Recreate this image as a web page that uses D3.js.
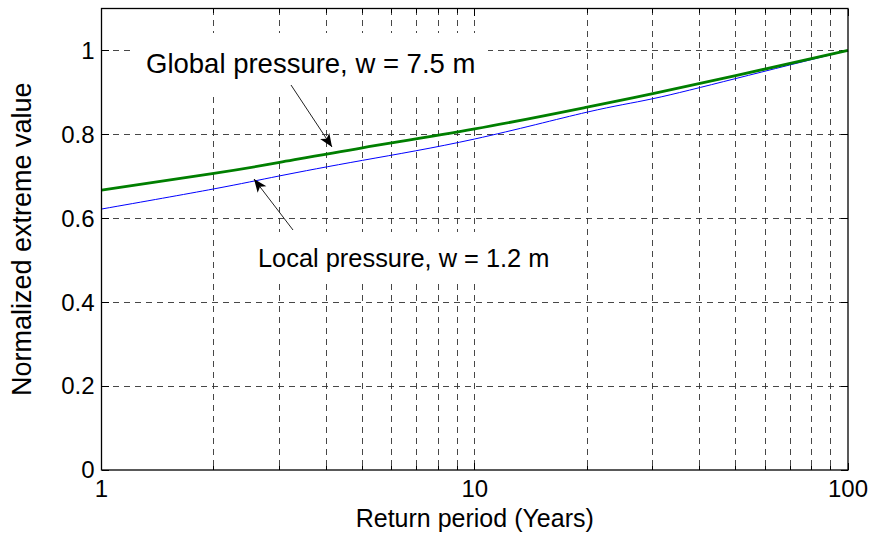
<!DOCTYPE html>
<html>
<head>
<meta charset="utf-8">
<title>Normalized extreme value</title>
<style>
  body { margin: 0; background: #fff; }
  svg text { font-family: "Liberation Sans", Arial, sans-serif; fill: #000; }
</style>
</head>
<body>
<svg id="chart"></svg>
<script src="https://cdn.jsdelivr.net/npm/d3@7"></script>
<script>
// return periods (years) where the curves were read
var periods = [1, 2, 3, 5, 10, 20, 30, 50, 100];
var globalPressure = [0.667, 0.707, 0.733, 0.768, 0.813, 0.865, 0.897, 0.940, 1.0];
var localPressure  = [0.622, 0.670, 0.701, 0.738, 0.789, 0.853, 0.885, 0.933, 1.0];

var xTicks = [1, 10, 100];
var xMinor = [2, 3, 4, 5, 6, 7, 8, 9, 20, 30, 40, 50, 60, 70, 80, 90];
var yTicks = [0, 0.2, 0.4, 0.6, 0.8, 1];

var svgWidth = 874, svgHeight = 538;
var margin = {top: 8.5, right: 26, bottom: 68, left: 101.5};
var w = svgWidth - margin.left - margin.right;
var h = svgHeight - margin.top - margin.bottom;

var svg = d3.select('#chart')
    .attr('width', svgWidth)
    .attr('height', svgHeight);

var g = svg.append('g')
    .attr('transform', 'translate(' + margin.left + ',' + margin.top + ')');

var x = d3.scaleLog().domain([1, 100]).range([0, w]);
var y = d3.scaleLinear().domain([0, 1.1]).range([h, 0]);

// grid
var gridStyle = function(sel) {
    sel.attr('stroke', '#333')
       .attr('stroke-width', 0.9)
       .attr('stroke-dasharray', '6,5')
       .attr('shape-rendering', 'crispEdges');
};
g.selectAll('.vgrid')
    .data(xMinor.concat([10]))
    .enter().append('line')
    .attr('x1', d => x(d)).attr('x2', d => x(d))
    .attr('y1', 0).attr('y2', h)
    .call(gridStyle);
g.selectAll('.hgrid')
    .data(yTicks.filter(d => d > 0))
    .enter().append('line')
    .attr('x1', 0).attr('x2', w)
    .attr('y1', d => y(d)).attr('y2', d => y(d))
    .call(gridStyle);

// ticks, inward on all sides (matlab box)
var ticks = g.append('g')
    .attr('stroke', '#000')
    .attr('stroke-width', 1)
    .attr('shape-rendering', 'crispEdges');
xTicks.forEach(function(d) {
    ticks.append('line').attr('x1', x(d)).attr('x2', x(d)).attr('y1', h).attr('y2', h - 7);
    ticks.append('line').attr('x1', x(d)).attr('x2', x(d)).attr('y1', 0).attr('y2', 7);
});
xMinor.forEach(function(d) {
    ticks.append('line').attr('x1', x(d)).attr('x2', x(d)).attr('y1', h).attr('y2', h - 4);
    ticks.append('line').attr('x1', x(d)).attr('x2', x(d)).attr('y1', 0).attr('y2', 4);
});
yTicks.forEach(function(d) {
    ticks.append('line').attr('x1', 0).attr('x2', 7).attr('y1', y(d)).attr('y2', y(d));
    ticks.append('line').attr('x1', w).attr('x2', w - 7).attr('y1', y(d)).attr('y2', y(d));
});

// tick labels
g.selectAll('.xlab')
    .data(xTicks)
    .enter().append('text')
    .attr('x', d => x(d))
    .attr('y', h + 27)
    .attr('text-anchor', 'middle')
    .style('font-size', '24px')
    .text(d => d);
g.selectAll('.ylab')
    .data(yTicks)
    .enter().append('text')
    .attr('x', -7)
    .attr('y', d => y(d))
    .attr('dy', '0.35em')
    .attr('text-anchor', 'end')
    .style('font-size', '24px')
    .text(d => d3.format('~g')(d));

// curves
var line = d3.line()
    .x((d, i) => x(periods[i]))
    .y(d => y(d))
    .curve(d3.curveNatural);

g.append('path')
    .datum(localPressure)
    .attr('fill', 'none')
    .attr('stroke', '#0000ff')
    .attr('stroke-width', 1)
    .attr('d', line);
g.append('path')
    .datum(globalPressure)
    .attr('fill', 'none')
    .attr('stroke', '#007f00')
    .attr('stroke-width', 2.8)
    .attr('d', line);

// box
g.append('rect')
    .attr('width', w).attr('height', h)
    .attr('fill', 'none')
    .attr('stroke', '#000')
    .attr('stroke-width', 1.3);

// annotations
svg.append('defs').append('marker')
    .attr('id', 'arrow')
    .attr('viewBox', '0 0 12 10')
    .attr('refX', 12).attr('refY', 5)
    .attr('markerWidth', 14).attr('markerHeight', 11)
    .attr('markerUnits', 'userSpaceOnUse')
    .attr('orient', 'auto')
    .append('path')
    .attr('d', 'M0,0 L12,5 L0,10 L3,5 Z')
    .attr('fill', '#000');

function label(txt, tx, ty, size, box) {
    g.append('rect')
        .attr('x', box[0]).attr('y', box[1])
        .attr('width', box[2]).attr('height', box[3])
        .attr('fill', '#fff');
    g.append('text')
        .attr('x', tx).attr('y', ty)
        .style('font-size', size + 'px')
        .text(txt);
}
function arrow(x1, y1, x2, y2) {
    g.append('line')
        .attr('x1', x1).attr('y1', y1)
        .attr('x2', x2).attr('y2', y2)
        .attr('stroke', '#222')
        .attr('stroke-width', 1)
        .attr('marker-end', 'url(#arrow)');
}

label('Global pressure, w = 7.5 m', 146 - margin.left, 73 - margin.top, 27.5,
      [134 - margin.left, 33 - margin.top, 354, 62]);
label('Local pressure, w = 1.2 m', 258 - margin.left, 267 - margin.top, 25.4,
      [246 - margin.left, 232 - margin.top, 316, 50]);
arrow(291 - margin.left, 85 - margin.top, 332 - margin.left, 147 - margin.top);
arrow(293 - margin.left, 230 - margin.top, 254 - margin.left, 179 - margin.top);

// axis titles
svg.append('text')
    .attr('x', margin.left + w / 2)
    .attr('y', 527)
    .attr('text-anchor', 'middle')
    .style('font-size', '25px')
    .text('Return period (Years)');
svg.append('text')
    .attr('transform', 'translate(31,' + (margin.top + h / 2) + ') rotate(-90)')
    .attr('text-anchor', 'middle')
    .style('font-size', '27px')
    .text('Normalized extreme value');
</script>
</body>
</html>
